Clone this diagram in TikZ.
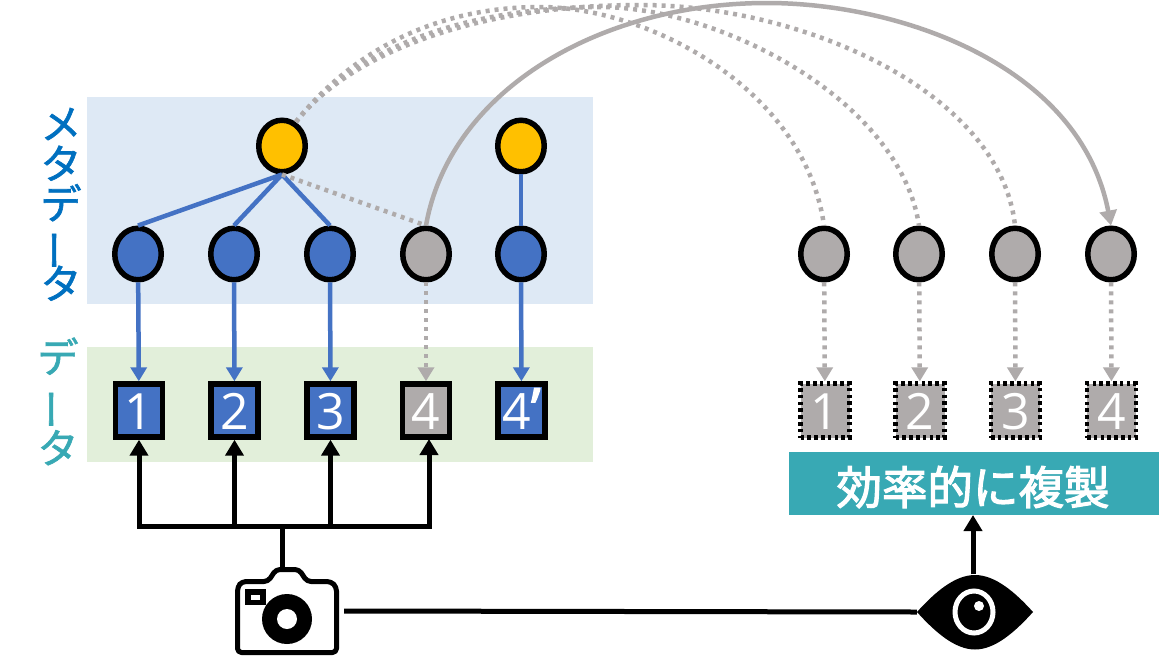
\documentclass[tikz,border=0pt]{standalone}
\usepackage{fontspec}
\setmainfont{Open Sans}
\newfontfamily\cjk[FakeBold=1.5]{Noto Sans CJK JP}
\newfontfamily\cjkt[FakeBold=2.5]{Noto Sans CJK JP}
\newfontfamily\primefont[FakeBold=2]{Open Sans}
\usetikzlibrary{shapes.geometric,arrows.meta}
\definecolor{gr}{HTML}{AFABAB}
\definecolor{bl}{HTML}{4472C4}
\definecolor{yl}{HTML}{FFC000}
\definecolor{tl}{HTML}{38A9B4}
\definecolor{mtext}{HTML}{0070C0}
\definecolor{mpanel}{HTML}{DEE9F5}
\definecolor{dpanel}{HTML}{E2EFDA}
\tikzset{
 panel/.style={draw=none,inner sep=0,anchor=north west},
 dot/.style={ellipse,draw=black,line width=5.5pt,minimum width=46.5pt,minimum height=51.5pt,inner sep=0,outer sep=2.7pt},
 bx/.style={rectangle,draw=black,line width=5.5pt,minimum width=47pt,minimum height=53pt,inner sep=0,outer sep=2.7pt,text=white,font=\fontsize{50}{50}\selectfont,text height=38pt,text depth=0pt},
 dbx/.style={rectangle,fill=gr,draw=black,line width=4.5pt,dash pattern=on 3.6pt off 3.2pt,minimum width=49pt,minimum height=54pt,inner sep=0,outer sep=2.2pt,text=white,font=\fontsize{50}{50}\selectfont,text height=38pt,text depth=0pt},
 blue/.style={draw=bl,line width=4.5pt},
 bluearr/.style={blue,-{Triangle[length=14pt,width=16pt]}},
 gdash/.style={draw=gr,line width=4.5pt,dash pattern=on 4pt off 5pt},
 garr/.style={gdash,-{Triangle[length=14pt,width=16pt]}},
 gsolid/.style={draw=gr,line width=4.5pt,-{Triangle[length=15pt,width=17pt]}},
 barr/.style={draw=black,line width=5pt,-{Triangle[length=16pt,width=18pt]}},
 bline/.style={draw=black,line width=5pt},
 vt/.style={align=center,inner sep=0}
}
\newcommand{\vbar}{\rotatebox[origin=c]{90}{ー}}
\begin{document}
\begin{tikzpicture}[x=1pt,y=-1pt]
\useasboundingbox (0,0) rectangle (1159,670);
\fill[white] (0,0) rectangle (1159,670);
\node[panel,fill=mpanel,minimum width=506pt,minimum height=207pt] (metapanel) at (87,97) {};
\node[panel,fill=dpanel,minimum width=506pt,minimum height=115pt] (datapanel) at (87,347) {};
\node[panel,fill=tl,minimum width=370pt,minimum height=63pt] (copypanel) at (789,452) {};
\node[text=white,font=\fontsize{45.5}{46}\selectfont\cjkt,inner sep=0] (copytext) at (973,487) {効率的に複製};
\node[vt,text=mtext,font=\fontsize{41}{40}\selectfont\cjk] (metalabel) at (61,219) {\smash{メ}\\\smash{タ}\\\smash{デ}\\\smash{\vbar}\\\smash{タ}};
\node[vt,text=tl,font=\fontsize{41}{45.5}\selectfont\cjk] (datalabel) at (58,418) {\smash{デ}\\\smash{\vbar}\\\smash{タ}};
\node[dot,fill=yl] (y1) at (282,146) {};
\node[dot,fill=yl] (y2) at (521,146) {};
\node[dot,fill=bl] (n1) at (138,254) {};
\node[dot,fill=bl] (n2) at (234,254) {};
\node[dot,fill=bl] (n3) at (330,254) {};
\node[dot,fill=gr] (n4) at (426,254) {};
\node[dot,fill=bl] (n5) at (521,254) {};
\node[dot,fill=gr] (r1) at (824,254) {};
\node[dot,fill=gr] (r2) at (919,254) {};
\node[dot,fill=gr] (r3) at (1015,254) {};
\node[dot,fill=gr] (r4) at (1111,254) {};
\node[bx,fill=bl] (b1) at (139,410.5) {1};
\node[bx,fill=bl] (b2) at (234.5,410.5) {2};
\node[bx,fill=bl] (b3) at (330.5,410.5) {3};
\node[bx,fill=gr] (b4) at (426,410.5) {4};
\node[bx,fill=bl] (b5) at (521.5,410.5) {4{\fontsize{58}{58}\selectfont\primefont ’}};
\node[dbx] (c1) at (825,410.5) {1};
\node[dbx] (c2) at (920,410.5) {2};
\node[dbx] (c3) at (1015.5,410.5) {3};
\node[dbx] (c4) at (1111.5,410.5) {4};
% tree
\draw[blue] (y1.south) -- (n1.north);
\draw[blue] (y1.south) -- (n2.north);
\draw[blue] (y1.south) -- (n3.north);
\draw[gdash] (y1.south) -- (n4.north);
\draw[blue] (y2) -- (n5);
\draw[bluearr] (n1) -- (b1);
\draw[bluearr] (n2) -- (b2);
\draw[bluearr] (n3) -- (b3);
\draw[garr] (n4) -- (b4);
\draw[bluearr] (n5) -- (b5);
\draw[garr] (r1) -- (c1);
\draw[garr] (r2) -- (c2);
\draw[garr] (r3) -- (c3);
\draw[garr] (r4) -- (c4);
% arcs
\draw[gdash] (y1.60) .. controls (348,56) and (430,7) .. (540,7) .. controls (650,7) and (805,90) .. (r1.north);
\draw[gdash] (y1.60) .. controls (348,56) and (450,8) .. (600,7) .. controls (720,7) and (900,100) .. (r2.north);
\draw[gdash] (y1.60) .. controls (348,56) and (470,5) .. (640,5) .. controls (800,5) and (1000,90) .. (r3.north);
\draw[gsolid] (n4.north) .. controls (450,90) and (600,3) .. (767,3) .. controls (900,3) and (1080,65) .. (r4.north);
% eye and camera
\node[minimum width=104pt,minimum height=88pt,inner sep=0] (cam) at (287,611) {};
\node[minimum width=116pt,minimum height=75pt,inner sep=0] (eye) at (975,612) {};
\draw[bline,line cap=rect] (b1.south |- 0,526) coordinate (bus1) -- (429,526) coordinate (bus4);
\coordinate (t4) at (429,439);
\draw[barr] (bus1) -- (b1.south);
\draw[barr] (b2.south |- bus1) -- (b2.south);
\draw[barr] (b3.south |- bus1) -- (b3.south);
\draw[barr] (bus4) -- (t4);
\draw[bline] (282,526) -- (cam.north -| 282,0);
\draw[bline] ([xshift=5pt]cam.east) -- (eye.west);
\draw[barr] (eye.north -| 973,0) -- (973,515) coordinate (t5);
% camera
\draw[black,line width=5pt,line join=round,rounded corners=4pt,fill=white]
 (237.5,600) -- (237.5,587) -- (242,581.5) -- (268,581.5) -- (276,569.5) -- (299,569.5) -- (307,581.5) -- (331,581.5) -- (336.5,587) -- (336.5,652.5) -- (237.5,652.5) -- cycle;
\fill[black] (245,589) rectangle (266,605);
\fill[white] (251,595) rectangle (260,599.5);
\fill[black] (287,619) circle (25);
\fill[white] (287,619) circle (10);
% eye
\fill[black] (917,612) .. controls (935,592) and (955,575) .. (975,575) .. controls (995,575) and (1015,592) .. (1033,612) .. controls (1015,632) and (995,649.5) .. (975,649.5) .. controls (955,649.5) and (935,632) .. (917,612) -- cycle;
\draw[white,line width=5pt] (974,612) ellipse (19 and 21);
\fill[white] (979,606) circle (5);
\end{tikzpicture}
\end{document}
